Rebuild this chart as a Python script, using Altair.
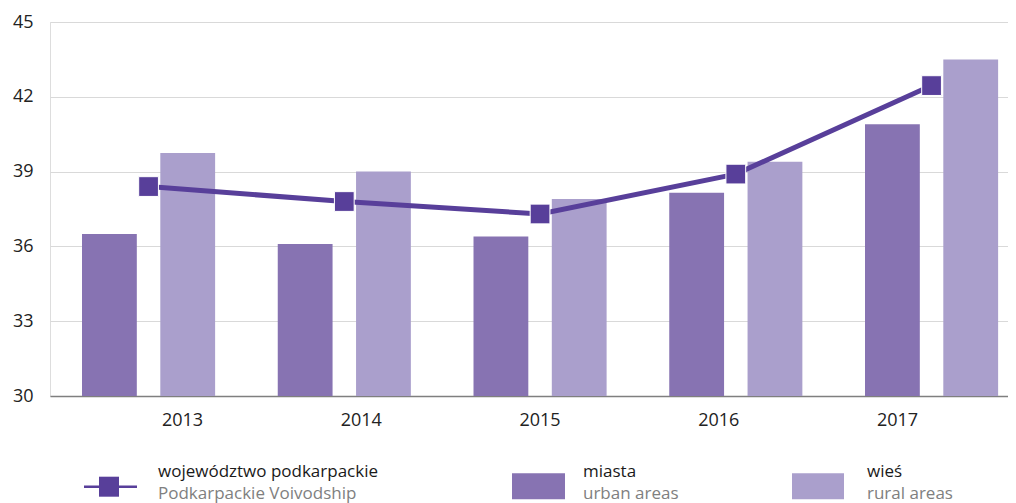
import json
import altair as alt
import pandas as pd

# ---------------- data ----------------
years = ["2013", "2014", "2015", "2016", "2017"]
urban = [36.5, 36.1, 36.4, 38.15, 40.9]          # miasta / urban areas
rural = [39.75, 39.0, 37.9, 39.4, 43.5]          # wieś / rural areas
voivodship = [38.4, 37.8, 37.3, 38.9, 42.45]     # województwo podkarpackie
series_pl = ["miasta", "wieś"]
series_en = ["urban areas", "rural areas"]
line_pl = "województwo podkarpackie"
line_en = "Podkarpackie Voivodship"
y_ticks = [30, 33, 36, 39, 42, 45]

# ---------------- style ----------------
C_URBAN = "#8773B2"
C_RURAL = "#AA9FCC"
C_LINE = "#583F9A"
C_TEXT = "#1A1A1A"
C_SUB = "#808080"
FONT = "Open Sans"

bars_df = pd.DataFrame({
    "year": years * 2,
    "value": urban + rural,
    "series": [series_pl[0]] * len(years) + [series_pl[1]] * len(years),
})
line_df = pd.DataFrame({"year": years, "value": voivodship})
one = pd.DataFrame({"k": [0]})

x_scale = alt.Scale(domain=years, paddingInner=0.32, paddingOuter=0.107, align=0.764)
y_scale = alt.Scale(domain=[30, 45], nice=False, zero=False)

label_shift = f"(2 - indexof({json.dumps(years)}, datum.value)) * 17"

x_axis = alt.Axis(title=None, ticks=False, grid=False, domainColor="#7F7F7F",
                  domainWidth=1.5, labelFont=FONT, labelFontSize=18,
                  labelColor="#222222", labelPadding=15, labelAngle=0,
                  labelOffset=alt.ExprRef(label_shift))
y_axis = alt.Axis(title=None, values=y_ticks, ticks=False, domain=False, grid=True,
                  gridColor="#D9D9D9", gridWidth=1, labelFont=FONT, labelFontSize=18,
                  labelColor="#222222", labelPadding=17)

bars = alt.Chart(bars_df).mark_bar().encode(
    x=alt.X("year:N", scale=x_scale, axis=x_axis, sort=years),
    xOffset=alt.XOffset("series:N", sort=series_pl,
                        scale=alt.Scale(domain=series_pl, paddingInner=0.3, paddingOuter=0)),
    y=alt.Y("value:Q", scale=y_scale, axis=y_axis),
    y2=alt.datum(30),
    color=alt.Color("series:N", scale=alt.Scale(domain=series_pl, range=[C_URBAN, C_RURAL]),
                    legend=None),
)

line = alt.Chart(line_df).mark_line(color=C_LINE, strokeWidth=5).encode(
    x=alt.X("year:N", sort=years),
    y=alt.Y("value:Q"),
)
points = alt.Chart(line_df).mark_point(shape="square", filled=True, size=390, fill=C_LINE,
                                       stroke="#FFFFFF", strokeWidth=1, opacity=1).encode(
    x=alt.X("year:N", sort=years),
    y=alt.Y("value:Q"),
)

# ---------------- legend (drawn manually) ----------------
def txt(s, x, y, color):
    return alt.Chart(one).mark_text(text=s, align="left", baseline="alphabetic",
                                    font=FONT, fontSize=17, color=color).encode(
        x=alt.value(x), y=alt.value(y))

L1, L2 = 455, 477
leg_rule = alt.Chart(one).mark_rule(color=C_LINE, strokeWidth=2.5).encode(
    x=alt.value(34), x2=alt.value(87), y=alt.value(464.7))
leg_sq = alt.Chart(one).mark_point(shape="square", filled=True, size=400, fill=C_LINE,
                                   opacity=1).encode(x=alt.value(59), y=alt.value(464.7))
leg_r1 = alt.Chart(one).mark_rect(color=C_URBAN).encode(
    x=alt.value(462), x2=alt.value(515), y=alt.value(451.3), y2=alt.value(477.3))
leg_r2 = alt.Chart(one).mark_rect(color=C_RURAL).encode(
    x=alt.value(742), x2=alt.value(794), y=alt.value(451.3), y2=alt.value(477.3))

legend = alt.layer(
    leg_rule, leg_sq,
    txt(line_pl, 108, L1, C_TEXT), txt(line_en, 108, L2, C_SUB),
    leg_r1, txt(series_pl[0], 533, L1, C_TEXT), txt(series_en[0], 533, L2, C_SUB),
    leg_r2, txt(series_pl[1], 817, L1, C_TEXT), txt(series_en[1], 817, L2, C_SUB),
)

chart = alt.layer(bars, line, points, legend).properties(
    width=958, height=374,
    padding={"left": 42, "top": 14, "right": 0, "bottom": 107},
    autosize=alt.AutoSizeParams(type="none"),
).configure_view(stroke=None).configure(background="white")

chart.save("out.html", embed_options={"renderer": "svg", "actions": False})
